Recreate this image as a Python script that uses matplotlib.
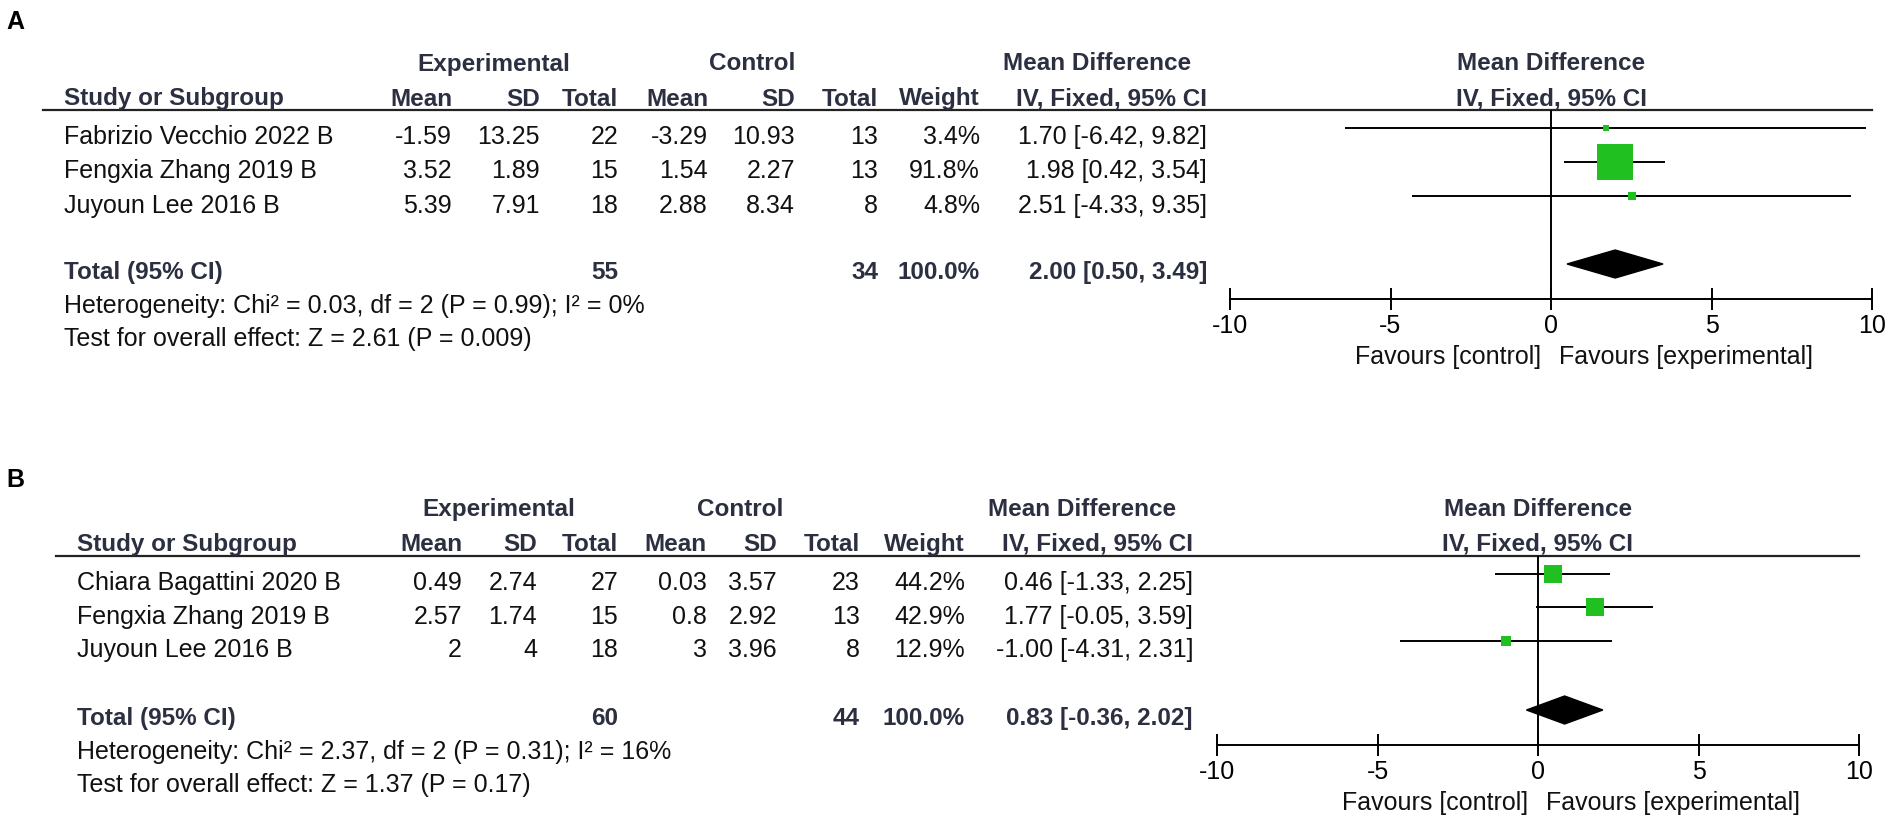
import matplotlib
matplotlib.use("Agg")
import matplotlib.pyplot as plt
from matplotlib.patches import Polygon

plt.rcParams['font.family'] = ['Liberation Sans', 'DejaVu Sans']
plt.rcParams['axes.unicode_minus'] = False

# Daten Panel A
a_studies = ["Fabrizio Vecchio 2022 B", "Fengxia Zhang 2019 B", "Juyoun Lee 2016 B"]
a_exp_mean = [-1.59, 3.52, 5.39]
a_exp_sd = [13.25, 1.89, 7.91]
a_exp_n = [22, 15, 18]
a_ctl_mean = [-3.29, 1.54, 2.88]
a_ctl_sd = [10.93, 2.27, 8.34]
a_ctl_n = [13, 13, 8]
a_weight = [3.4, 91.8, 4.8]
a_md = [1.70, 1.98, 2.51]
a_lo = [-6.42, 0.42, -4.33]
a_hi = [9.82, 3.54, 9.35]
a_total = [2.00, 0.50, 3.49]
a_het = "Heterogeneity: Chi² = 0.03, df = 2 (P = 0.99); I² = 0%"
a_test = "Test for overall effect: Z = 2.61 (P = 0.009)"

# Daten Panel B
b_studies = ["Chiara Bagattini 2020 B", "Fengxia Zhang 2019 B", "Juyoun Lee 2016 B"]
b_exp_mean = [0.49, 2.57, 2]
b_exp_sd = [2.74, 1.74, 4]
b_exp_n = [27, 15, 18]
b_ctl_mean = [0.03, 0.8, 3]
b_ctl_sd = [3.57, 2.92, 3.96]
b_ctl_n = [23, 13, 8]
b_weight = [44.2, 42.9, 12.9]
b_md = [0.46, 1.77, -1.00]
b_lo = [-1.33, -0.05, -4.31]
b_hi = [2.25, 3.59, 2.31]
b_total = [0.83, -0.36, 2.02]
b_het = "Heterogeneity: Chi² = 2.37, df = 2 (P = 0.31); I² = 16%"
b_test = "Test for overall effect: Z = 1.37 (P = 0.17)"

ticks = [-10, -5, 0, 5, 10]
favours = ["Favours [control]", "Favours [experimental]"]

W, H = 1901, 830
FS_B = 17.5   # fett
FS_R = 18     # normal
HEAD = '#2b2f40'
GREEN = '#1fc01f'

fig = plt.figure(figsize=(W / 100, H / 100), dpi=100)
bg = fig.add_axes([0, 0, 1, 1])
bg.set_xlim(0, W)
bg.set_ylim(H, 0)
bg.axis('off')


def panel(label, lay, studies, em, esd, en, cm, csd, cn, wt, md, lo, hi, tot, het, test, max_side):
    c = lay['cols']
    bg.text(6, lay['lab'], label, fontsize=18, fontweight='bold', va='center')
    hb = dict(fontsize=FS_B, fontweight='bold', color=HEAD, va='center')
    bg.text(lay['exp_c'], lay['h1'], "Experimental", ha='center', **hb)
    bg.text(lay['ctl_c'], lay['h1'], "Control", ha='center', **hb)
    bg.text(lay['md_c'], lay['h1'], "Mean Difference", ha='center', **hb)
    bg.text(lay['iv_c'], lay['h2'], "IV, Fixed, 95% CI", ha='center', **hb)
    bg.text(lay['zero'], lay['h1'], "Mean Difference", ha='center', **hb)
    bg.text(lay['zero'], lay['h2'], "IV, Fixed, 95% CI", ha='center', **hb)
    bg.text(lay['left'], lay['h2'], "Study or Subgroup", ha='left', **hb)
    for x, t in zip(c[:7], ["Mean", "SD", "Total", "Mean", "SD", "Total", "Weight"]):
        bg.text(x, lay['h2'], t, ha='right', **hb)

    # Trennlinie unter dem Kopf
    right_end = lay['zero'] + 10 * lay['scale']
    bg.plot([lay['uleft'], right_end], [lay['under'], lay['under']], color='#222', lw=1.6)

    rb = dict(fontsize=FS_R, color='#111', va='center')
    for i, s in enumerate(studies):
        y = lay['rows'][i]
        bg.text(lay['left'], y, s, ha='left', **rb)
        vals = [f"{em[i]:g}", f"{esd[i]:g}", str(en[i]), f"{cm[i]:g}", f"{csd[i]:g}",
                str(cn[i]), f"{wt[i]:.1f}%", f"{md[i]:.2f} [{lo[i]:.2f}, {hi[i]:.2f}]"]
        for x, v in zip(c, vals):
            bg.text(x, y, v, ha='right', **rb)

    yt = lay['total']
    bg.text(lay['left'], yt, "Total (95% CI)", ha='left', **hb)
    bg.text(c[2], yt, str(sum(en)), ha='right', **hb)
    bg.text(c[5], yt, str(sum(cn)), ha='right', **hb)
    bg.text(c[6], yt, f"{sum(wt):.1f}%", ha='right', **hb)
    bg.text(c[7], yt, f"{tot[0]:.2f} [{tot[1]:.2f}, {tot[2]:.2f}]", ha='right', **hb)
    bg.text(lay['left'], lay['het'], het, ha='left', fontsize=FS_R, color='#111', va='center')
    bg.text(lay['left'], lay['test'], test, ha='left', fontsize=FS_R, color='#111', va='center')

    # Forest-Achse
    x0 = lay['zero'] - 10 * lay['scale']
    fx = fig.add_axes([x0 / W, 1 - lay['axis'] / H, 20 * lay['scale'] / W,
                       (lay['axis'] - lay['under']) / H])
    fx.set_xlim(-10, 10)
    fx.set_ylim(lay['axis'], lay['under'])
    fx.patch.set_visible(False)
    for sp in ['top', 'left', 'right']:
        fx.spines[sp].set_visible(False)
    fx.spines['bottom'].set_linewidth(1.4)
    fx.set_yticks([])
    fx.set_xticks(ticks)
    fx.set_xticklabels([str(t) for t in ticks])
    fx.tick_params(axis='x', direction='inout', length=16, width=1.4, labelsize=FS_R, pad=3)
    fx.axvline(0, color='k', lw=1.4)

    ys = [r - 9 for r in lay['rows']]
    fx.hlines(ys, lo, hi, color='k', lw=1.4)
    wmax = max(wt)
    for m, y, w in zip(md, ys, wt):
        side = max_side * (w / wmax) ** 0.5
        fx.plot(m, y, marker='s', ms=side * 0.72, color=GREEN, mec=GREEN, mew=0,
                clip_on=False, zorder=3)
    yd = yt - 8
    hd = 14
    fx.add_patch(Polygon([(tot[1], yd), (tot[0], yd - hd), (tot[2], yd), (tot[0], yd + hd)],
                         closed=True, color='k', zorder=3))

    bg.text(lay['zero'] - 10, lay['fav'], favours[0], ha='right', va='center', fontsize=FS_R, color='#111')
    bg.text(lay['zero'] + 8, lay['fav'], favours[1], ha='left', va='center', fontsize=FS_R, color='#111')


lay_a = dict(lab=22, h1=64, h2=99, under=110, rows=[137, 171, 205.5], total=272,
             het=306, test=339, axis=299, fav=357, left=64, uleft=43,
             cols=[452, 540, 618, 708, 795, 878, 980, 1207],
             exp_c=494, ctl_c=752, md_c=1097, iv_c=1111, zero=1551, scale=32.1)
lay_b = dict(lab=480, h1=509, h2=544, under=556, rows=[583, 616.5, 650], total=718,
             het=752, test=785, axis=745, fav=803, left=77, uleft=56,
             cols=[462, 537, 618, 707, 777, 860, 965, 1193],
             exp_c=499, ctl_c=740, md_c=1082, iv_c=1098, zero=1538, scale=32.1)

panel("A", lay_a, a_studies, a_exp_mean, a_exp_sd, a_exp_n, a_ctl_mean, a_ctl_sd, a_ctl_n,
      a_weight, a_md, a_lo, a_hi, a_total, a_het, a_test, 36)
panel("B", lay_b, b_studies, b_exp_mean, b_exp_sd, b_exp_n, b_ctl_mean, b_ctl_sd, b_ctl_n,
      b_weight, b_md, b_lo, b_hi, b_total, b_het, b_test, 18.5)

fig.savefig("out.png", dpi=100)
